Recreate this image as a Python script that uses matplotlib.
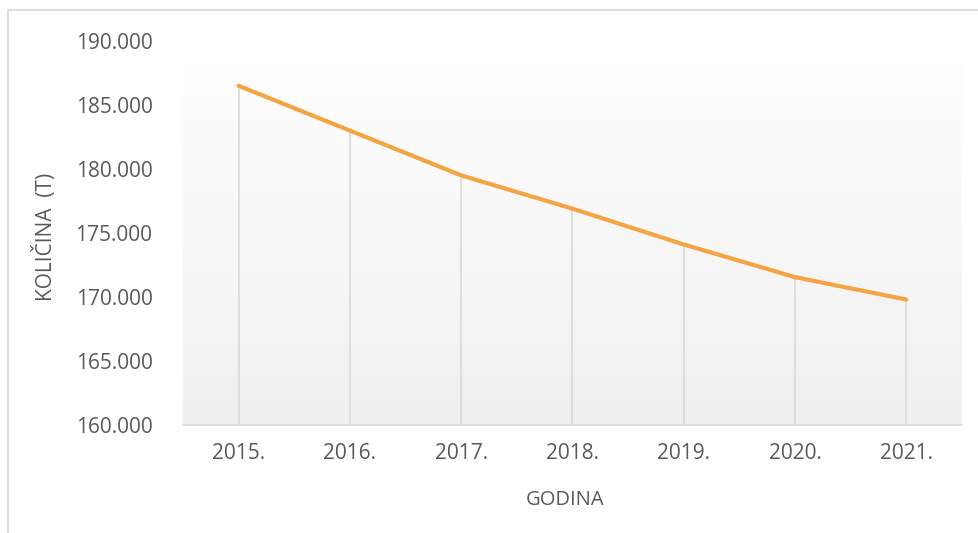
import numpy as np
import matplotlib
matplotlib.use("Agg")
import matplotlib.pyplot as plt
from matplotlib.patches import Rectangle

godine = ["2015.", "2016.", "2017.", "2018.", "2019.", "2020.", "2021."]
kolicina = [186500, 183000, 179500, 176900, 174100, 171550, 169800]

plt.rcParams['font.family'] = ['Open Sans', 'DejaVu Sans']
tekst = '#595959'

fig = plt.figure(figsize=(9.79, 5.33), dpi=100)
W, H = 979, 533
ax = fig.add_axes([183 / W, 1 - 425 / H, (962 - 183) / W, (425 - 41) / H])

# outer chart border (only left and top visible in the crop)
fig.patches.append(Rectangle((8 / W, -0.1), 1.2, 1 - 10 / H + 0.1, transform=fig.transFigure,
                             fill=False, edgecolor='#d9d9d9', linewidth=1.2))

x = np.arange(len(godine))
ax.set_xlim(-0.5, len(godine) - 0.5)
ax.set_ylim(160000, 190000)

# gradient fill in plot area, white at top to light gray at bottom
grad = np.linspace(0, 1, 256).reshape(-1, 1)
ax.imshow(grad, extent=(-0.5, len(godine) - 0.5, 160000, 190000), aspect='auto',
          cmap=matplotlib.colors.LinearSegmentedColormap.from_list('g', ['#f0f0f0', '#ffffff']),
          origin='lower', zorder=0)

ax.vlines(x, 160000, kolicina, colors='#d9d9d9', linewidth=1.2, zorder=1)
ax.plot(x, kolicina, color='#F5A443', linewidth=3, solid_capstyle='round', zorder=3)

for s in ['top', 'right', 'left']:
    ax.spines[s].set_visible(False)
ax.spines['bottom'].set_color('#d9d9d9')
ax.spines['bottom'].set_linewidth(1.2)

ax.set_xticks(x)
ax.set_xticklabels(godine)
yt = np.arange(160000, 190001, 5000)
ax.set_yticks(yt)
ax.set_yticklabels([f"{v // 1000}.000" for v in yt])
ax.tick_params(axis='both', length=0, labelsize=15, colors=tekst)
ax.tick_params(axis='x', pad=13)
ax.tick_params(axis='y', pad=22)

fig.text(565 / W, 1 - 500 / H, "GODINA", ha='center', va='center', fontsize=14.5, color=tekst)
fig.text(45 / W, 1 - 237 / H, "KOLIČINA  (T)", ha='center', va='center', rotation=90,
         fontsize=15, color=tekst)

fig.savefig("out.png", dpi=100)
